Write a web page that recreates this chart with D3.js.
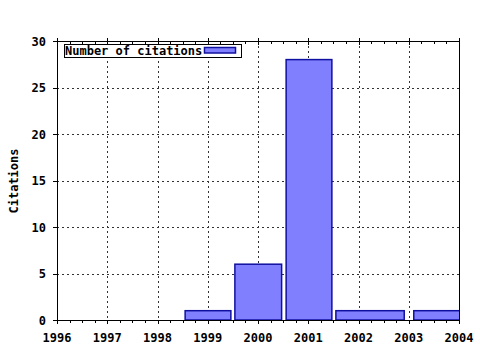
<!DOCTYPE html>
<html><head><meta charset="utf-8">
<script src="https://cdn.jsdelivr.net/npm/d3@7"></script>
<style>body{margin:0;background:#fff}svg{display:block}text{font-family:"DejaVu Sans Mono",monospace;font-weight:bold;font-size:12px;fill:#000}</style>
</head><body>
<script>
// Data
const seriesName = "Number of citations";
const yTitle = "Citations";
const barStart = [1998.55, 1999.54, 2000.56, 2001.55, 2003.10];
const barEnd   = [1999.46, 2000.47, 2001.47, 2002.91, 2004.70];
const citations = [1, 6, 28, 1, 1];
const xTicks = [1996, 1997, 1998, 1999, 2000, 2001, 2002, 2003, 2004];
const yTicks = [0, 5, 10, 15, 20, 25, 30];

const W = 480, H = 350;
const L = 57, R = 459, T = 41, B = 320;
const svg = d3.select("body").append("svg").attr("width", W).attr("height", H);
const x = d3.scaleLinear().domain([1996, 2004]).range([L, R]);
const y = d3.scaleLinear().domain([0, 30]).range([B, T]);
const minorX = d3.range(1996, 2004.001, 0.25).filter(v => !xTicks.includes(v));

// grid
const g = svg.append("g").attr("stroke", "#333").attr("stroke-width", 1).attr("stroke-dasharray", "2,3").attr("shape-rendering", "crispEdges");
g.selectAll(".gx").data(xTicks.slice(1, -1)).enter().append("line")
  .attr("x1", d => Math.round(x(d)) + 0.5).attr("x2", d => Math.round(x(d)) + 0.5).attr("y1", T).attr("y2", B);
g.selectAll(".gy").data(yTicks.slice(1, -1)).enter().append("line")
  .attr("y1", d => Math.round(y(d)) + 0.5).attr("y2", d => Math.round(y(d)) + 0.5).attr("x1", L).attr("x2", R);

// bars
const clip = svg.append("clipPath").attr("id", "c").append("rect").attr("x", L).attr("y", T).attr("width", R - L).attr("height", B - T);
svg.append("g").attr("clip-path", "url(#c)").selectAll("rect").data(citations).enter().append("rect")
  .attr("x", (d, i) => x(barStart[i])).attr("width", (d, i) => x(barEnd[i]) - x(barStart[i]))
  .attr("y", d => y(d)).attr("height", d => y(0) - y(d))
  .attr("fill", "#8080ff").attr("stroke", "#1010a0").attr("stroke-width", 1.5);

// border
const ax = svg.append("g").attr("stroke", "#000").attr("stroke-width", 1).attr("shape-rendering", "crispEdges");
ax.append("rect").attr("x", L + 0.5).attr("y", T + 0.5).attr("width", R - L).attr("height", B - T).attr("fill", "none");
// ticks
ax.selectAll(".xb").data(xTicks).enter().append("line")
  .attr("x1", d => Math.round(x(d)) + 0.5).attr("x2", d => Math.round(x(d)) + 0.5).attr("y1", B).attr("y2", B + 4);
ax.selectAll(".xbm").data(minorX).enter().append("line")
  .attr("x1", d => Math.round(x(d)) + 0.5).attr("x2", d => Math.round(x(d)) + 0.5).attr("y1", B).attr("y2", B + 3);
ax.selectAll(".xt").data(xTicks).enter().append("line")
  .attr("x1", d => Math.round(x(d)) + 0.5).attr("x2", d => Math.round(x(d)) + 0.5).attr("y1", T - 3).attr("y2", T + 4);
ax.selectAll(".xtm").data(minorX).enter().append("line")
  .attr("x1", d => Math.round(x(d)) + 0.5).attr("x2", d => Math.round(x(d)) + 0.5).attr("y1", T).attr("y2", T + 3);
ax.selectAll(".yl").data(yTicks).enter().append("line")
  .attr("y1", d => Math.round(y(d)) + 0.5).attr("y2", d => Math.round(y(d)) + 0.5).attr("x1", L - 4).attr("x2", L);

// labels
svg.selectAll(".xlab").data(xTicks).enter().append("text")
  .attr("x", d => x(d)).attr("y", 341.5).attr("text-anchor", "middle").text(d => d);
svg.selectAll(".ylab").data(yTicks).enter().append("text")
  .attr("x", 46).attr("y", d => y(d) + 4.5).attr("text-anchor", "end").text(d => d);
svg.append("text").attr("transform", "translate(17.5,181) rotate(-90)").attr("text-anchor", "middle").text(yTitle);

// legend
svg.append("rect").attr("x", 64.5).attr("y", 44.5).attr("width", 177).attr("height", 12.5)
  .attr("fill", "#fff").attr("stroke", "#000").attr("stroke-width", 1).attr("shape-rendering", "crispEdges");
svg.append("text").attr("x", 65).attr("y", 55).text(seriesName);
svg.append("rect").attr("x", 204.5).attr("y", 47.5).attr("width", 31).attr("height", 5.5)
  .attr("fill", "#8080ff").attr("stroke", "#1010a0").attr("stroke-width", 1.5);
</script>
</body></html>
